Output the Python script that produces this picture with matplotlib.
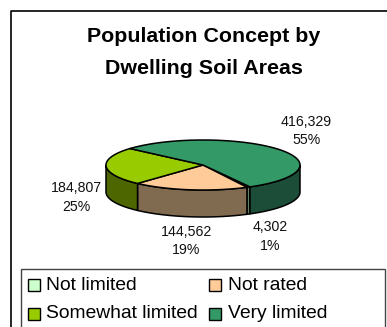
import numpy as np
import matplotlib
matplotlib.use('Agg')
import matplotlib.pyplot as plt
from matplotlib.patches import Rectangle

plt.rcParams['font.family'] = ['Liberation Sans', 'DejaVu Sans']

categories = ['Not limited', 'Not rated', 'Somewhat limited', 'Very limited']
values = [4302, 144562, 184807, 416329]
percents = ['1%', '19%', '25%', '55%']
top_colors = ['#CCFFCC', '#FFCC99', '#99CC00', '#339966']
side_colors = ['#668066', '#806A50', '#4D6600', '#1C4D38']
label_pos = [(270, 236.5), (186, 241), (76, 197.5), (306.5, 131)]

cx, cy, rx, ry, depth = 203, 165, 97, 25, 27
start = -61.0


def ell(a):
    return cx + rx * np.cos(a), cy - ry * np.sin(a)


fig = plt.figure(figsize=(3.87, 3.27), dpi=100)
ax = fig.add_axes([0, 0, 1, 1])
ax.set_xlim(0, 387)
ax.set_ylim(327, 0)
ax.axis('off')

# chart frame
ax.plot([10.5, 10.5, 387], [327, 10.5, 10.5], color='black', lw=1.2)

ax.text(203.5, 37, 'Population Concept by', ha='center', va='center', fontsize=15.4, fontweight='bold')
ax.text(203.5, 68.5, 'Dwelling Soil Areas', ha='center', va='center', fontsize=15.4, fontweight='bold')

# slices run clockwise from the front right
fracs = np.array(values) / sum(values)
edges = np.radians(start - 360 * np.concatenate([[0], np.cumsum(fracs)]))

# side walls, only the front half of the rim shows
for i in range(len(values)):
    a = np.linspace(edges[i], edges[i + 1], 200)
    a = a[np.sin(a) <= 0]
    if len(a) < 2:
        continue
    x, y = ell(a)
    ax.fill(np.r_[x, x[::-1]], np.r_[y, y[::-1] + depth], fc=side_colors[i], ec='black', lw=1.1, joinstyle='round')

# top faces
for i in range(len(values)):
    a = np.linspace(edges[i], edges[i + 1], 200)
    x, y = ell(a)
    ax.fill(np.r_[cx, x], np.r_[cy, y], fc=top_colors[i], ec='black', lw=1.1, joinstyle='round')

for i in range(len(values)):
    lx, ly = label_pos[i]
    ax.text(lx, ly - 9.5, f'{values[i]:,}', ha='center', va='center', fontsize=10.2, color='#111111')
    ax.text(lx, ly + 9.5, percents[i], ha='center', va='center', fontsize=10.2, color='#111111')

# legend box
ax.add_patch(Rectangle((20.5, 269), 364, 70, fc='white', ec='#444444', lw=1))
leg_x = [27.5, 209]
leg_y = [285, 314]
for i, name in enumerate(categories):
    x = leg_x[i % 2]
    y = leg_y[i // 2]
    ax.add_patch(Rectangle((x, y - 6), 12, 12, fc=top_colors[i], ec='black', lw=1))
    ax.text(x + 19, y, name, ha='left', va='center', fontsize=13.9, color='black')

fig.savefig('out.png', dpi=100)
